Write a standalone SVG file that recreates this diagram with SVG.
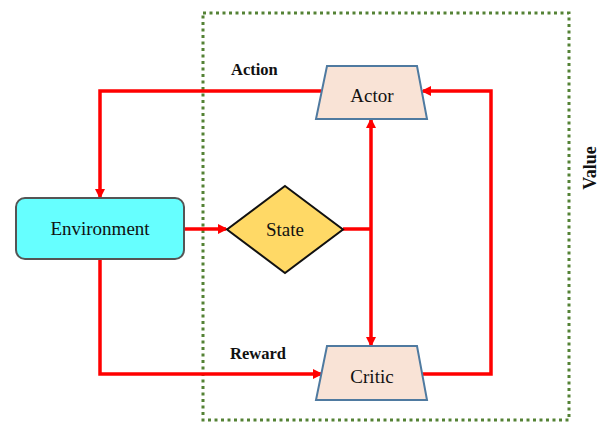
<svg xmlns="http://www.w3.org/2000/svg" width="601" height="425" viewBox="0 0 601 425">
<style>
.lbl{font-family:"Liberation Serif","Times New Roman",serif;font-size:16.5px;font-weight:bold;fill:#111}
.txt{font-family:"Liberation Serif","Times New Roman",serif;font-size:19px;fill:#111}
.trap{fill:#F9E3D6;stroke:#4F7AA0;stroke-width:2}
.con{fill:none;stroke:#FF0000;stroke-width:3.5}
</style>
<defs>
<marker id="ah" markerWidth="10" markerHeight="10" refX="8" refY="5" orient="auto" markerUnits="userSpaceOnUse" viewBox="0 0 10 10">
<path d="M0,0 L10,5 L0,10 Z" fill="#FF0000"/>
</marker>
</defs>
<rect x="203" y="13" width="366" height="407" fill="none" stroke="#548235" stroke-width="3" stroke-dasharray="3,3.5"/>
<g id="connectors">
<path class="con" d="M321,91 H100 V197" marker-end="url(#ah)"/>
<path class="con" d="M184,229 H226" marker-end="url(#ah)"/>
<path class="con" d="M343,229 H371"/>
<path class="con" d="M371,229 V120" marker-end="url(#ah)"/>
<path class="con" d="M371,229 V345" marker-end="url(#ah)"/>
<path class="con" d="M100,259 V374 H321" marker-end="url(#ah)"/>
<path class="con" d="M423,374 H491 V91 H423" marker-end="url(#ah)"/>
</g>
<g id="actor">
<polygon class="trap" points="327,66 417,66 427,119 316,119"/>
<text class="txt" x="372" y="102" text-anchor="middle">Actor</text>
</g>
<g id="critic">
<polygon class="trap" points="327,346 417,346 427,400 316,400"/>
<text class="txt" x="372" y="383" text-anchor="middle">Critic</text>
</g>
<g id="environment">
<rect x="16" y="198" width="168" height="61" rx="9" fill="#66FFFF" stroke="#555" stroke-width="2"/>
<text class="txt" x="100" y="235" text-anchor="middle">Environment</text>
</g>
<g id="state">
<polygon points="285,186 343,229.5 285,273 227,229.5" fill="#FFD966" stroke="#111" stroke-width="2"/>
<text class="txt" x="285" y="236" text-anchor="middle">State</text>
</g>
<text class="lbl" x="231" y="75">Action</text>
<text class="lbl" x="230" y="359">Reward</text>
<text class="lbl" style="font-size:18px" transform="translate(596,168) rotate(-90)" text-anchor="middle">Value</text>
</svg>
